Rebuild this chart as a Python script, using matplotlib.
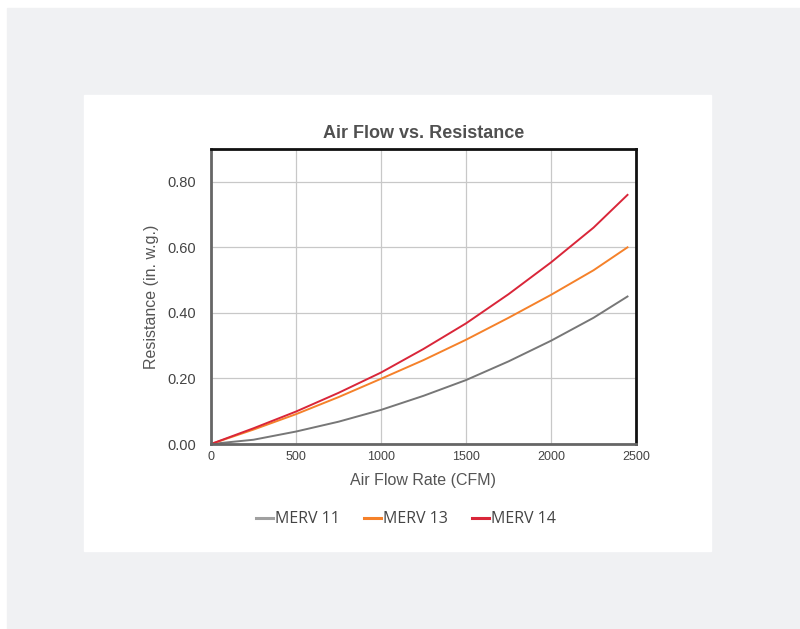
import matplotlib
matplotlib.use("Agg")
import matplotlib.pyplot as plt
from matplotlib.patches import Rectangle

# air flow (CFM) and resistance (in. w.g.)
cfm = [0, 250, 500, 750, 1000, 1250, 1500, 1750, 2000, 2250, 2450]
merv11 = [0.0, 0.013, 0.038, 0.068, 0.104, 0.147, 0.195, 0.252, 0.315, 0.385, 0.45]
merv13 = [0.0, 0.044, 0.091, 0.143, 0.199, 0.256, 0.318, 0.385, 0.455, 0.530, 0.60]
merv14 = [0.0, 0.048, 0.099, 0.156, 0.218, 0.290, 0.368, 0.457, 0.554, 0.660, 0.76]

x_ticks = [0, 500, 1000, 1500, 2000, 2500]
y_ticks = [0.0, 0.2, 0.4, 0.6, 0.8]

W, H = 800, 629
fig = plt.figure(figsize=(W / 100, H / 100), dpi=100)
fig.patch.set_facecolor("white")

# grey page background and white card (kept behind the axes)
fig.patches.append(Rectangle((7 / W, 0), (W - 7) / W, (H - 8) / H,
                             transform=fig.transFigure, color="#f0f1f3", zorder=-10))
fig.patches.append(Rectangle((84 / W, (H - 551) / H), (711 - 84) / W, (551 - 95) / H,
                             transform=fig.transFigure, color="white", zorder=-9))

ax = fig.add_axes([211 / W, (H - 444) / H, (636 - 211) / W, (444 - 149) / H])
ax.set_zorder(5)

ax.plot(cfm, merv11, color="#777777", lw=1.4, label="MERV 11")
ax.plot(cfm, merv13, color="#f5812a", lw=1.4, label="MERV 13")
ax.plot(cfm, merv14, color="#d92639", lw=1.4, label="MERV 14")

ax.set_xlim(0, 2500)
ax.set_ylim(0, 0.9)
ax.set_xticks(x_ticks)
ax.set_yticks(y_ticks)
ax.set_yticklabels([f"{v:.2f}" for v in y_ticks])
ax.tick_params(length=0, labelcolor="#444444")
for lab in ax.get_xticklabels():
    lab.set_fontfamily("Liberation Sans")
    lab.set_fontsize(9)
for lab in ax.get_yticklabels():
    lab.set_fontfamily("Liberation Sans")
    lab.set_fontsize(10.5)
ax.tick_params(axis="y", pad=11)
ax.tick_params(axis="x", pad=5)

ax.grid(True, color="#c8c8c8", lw=0.9)
ax.set_axisbelow(True)
for s in ["left", "bottom"]:
    ax.spines[s].set_color("#666666")
    ax.spines[s].set_linewidth(2)
for s in ["top", "right"]:
    ax.spines[s].set_color("#111111")
    ax.spines[s].set_linewidth(2)

ax.set_title("Air Flow vs. Resistance", fontfamily="Liberation Sans", fontweight="bold",
             fontsize=13, color="#505050", pad=8)
ax.set_xlabel("Air Flow Rate (CFM)", fontfamily="Liberation Sans", fontsize=11.5,
              color="#555555", labelpad=7)
ax.set_ylabel("Resistance (in. w.g.)", fontfamily="Liberation Sans", fontsize=11.5,
              color="#555555", labelpad=6)

leg = ax.legend(loc="center", bbox_to_anchor=(0.458, -0.255), ncol=3, frameon=False,
                handlelength=1.1, handletextpad=0.1, columnspacing=1.5,
                prop={"family": "Open Sans", "size": 11.5})
for line, c in zip(leg.get_lines(), ["#a0a0a0", "#f5812a", "#d92639"]):
    line.set_color(c)
    line.set_linewidth(2.2)
for t in leg.get_texts():
    t.set_color("#444444")

fig.savefig("out.png", dpi=100)
